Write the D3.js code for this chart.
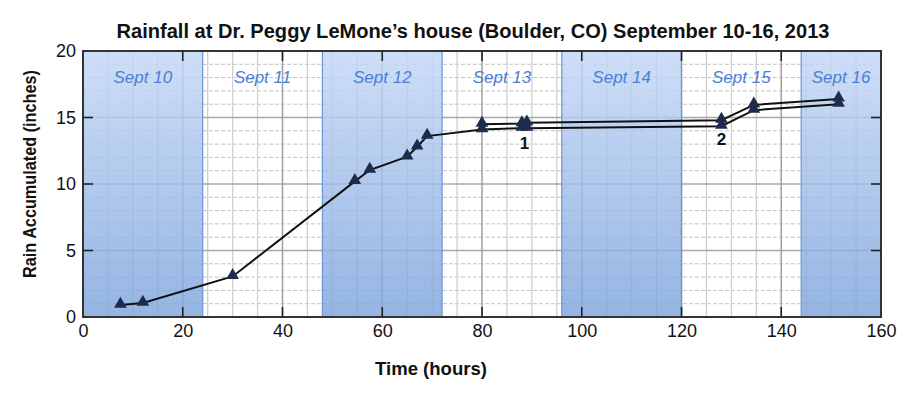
<!DOCTYPE html>
<html><head><meta charset="utf-8">
<script src="https://cdn.jsdelivr.net/npm/d3@7"></script>
<style>body{margin:0;background:#fff;} svg{display:block;}</style>
</head><body>
<svg id="chart" width="917" height="394"></svg>
<script>
// ---- data ----
const titleText = "Rainfall at Dr. Peggy LeMone\u2019s house (Boulder, CO) September 10-16, 2013";
const xTicks = [0, 20, 40, 60, 80, 100, 120, 140, 160];
const yTicks = [0, 5, 10, 15, 20];
const dayLabels = ["Sept 10", "Sept 11", "Sept 12", "Sept 13", "Sept 14", "Sept 15", "Sept 16"];
const dayStarts = [0, 24, 48, 72, 96, 120, 144];
const dayEnds   = [24, 48, 72, 96, 120, 144, 160];
const shadedDays = [true, false, true, false, true, false, true];
// lower gauge series (includes shared early readings)
const lowerHours  = [7.5, 12, 30, 54.5, 57.5, 65, 67, 69, 80, 88, 89, 128, 134.5, 151.5];
const lowerValues = [0.9, 1.05, 3.05, 10.2, 11.05, 12.05, 12.8, 13.6, 14.1, 14.2, 14.2, 14.35, 15.55, 16.0];
// upper gauge series
const upperHours  = [80, 88, 89, 128, 134.5, 151.5];
const upperValues = [14.5, 14.55, 14.6, 14.8, 15.95, 16.4];
const notes = [{label: "1", hour: 88.5, value: 12.6}, {label: "2", hour: 128, value: 12.9}];

// ---- layout ----
const svg = d3.select("#chart");
const L = 83, R = 881, T = 51, B = 317;
const x = d3.scaleLinear().domain([0, 160]).range([L, R]);
const y = d3.scaleLinear().domain([0, 20]).range([B, T]);

const defs = svg.append("defs");
const grad = defs.append("linearGradient").attr("id", "bandGrad").attr("x1", 0).attr("x2", 0).attr("y1", 0).attr("y2", 1);
grad.append("stop").attr("offset", "0%").attr("stop-color", "#c3d7f6");
grad.append("stop").attr("offset", "100%").attr("stop-color", "#7ea4dc");

// grid
const g = svg.append("g");
g.selectAll(".hmin").data(d3.range(1, 20).filter(v => v % 5 !== 0)).join("line")
  .attr("x1", L).attr("x2", R).attr("y1", d => y(d)).attr("y2", d => y(d))
  .attr("stroke", "#c4c4c4").attr("stroke-width", 1).attr("stroke-dasharray", "4,2");
g.selectAll(".vmin").data(d3.range(5, 160, 5).filter(v => v % 20 !== 0)).join("line")
  .attr("y1", T).attr("y2", B).attr("x1", d => x(d)).attr("x2", d => x(d))
  .attr("stroke", "#d0d0d0").attr("stroke-width", 1.3);
g.selectAll(".hmaj").data([5, 10, 15]).join("line")
  .attr("x1", L).attr("x2", R).attr("y1", d => y(d)).attr("y2", d => y(d))
  .attr("stroke", "#a8a8a8").attr("stroke-width", 1.5);
g.selectAll(".vmaj").data(xTicks.slice(1, -1)).join("line")
  .attr("y1", T).attr("y2", B).attr("x1", d => x(d)).attr("x2", d => x(d))
  .attr("stroke", "#a0a0a0").attr("stroke-width", 1.5);

// bands
const bandIdx = d3.range(dayLabels.length).filter(i => shadedDays[i]);
svg.append("g").selectAll("rect").data(bandIdx).join("rect")
  .attr("x", i => x(dayStarts[i])).attr("width", i => x(dayEnds[i]) - x(dayStarts[i]))
  .attr("y", T).attr("height", B - T)
  .attr("fill", "url(#bandGrad)").attr("fill-opacity", 0.82)
  .attr("stroke", "#6a94d3").attr("stroke-width", 1.2);

// day labels
svg.append("g").selectAll("text").data(d3.range(dayLabels.length)).join("text")
  .attr("x", i => x((dayStarts[i] + dayEnds[i]) / 2))
  .attr("y", 83)
  .attr("text-anchor", "middle")
  .attr("font-family", "Liberation Sans, Arial, sans-serif")
  .attr("font-style", "italic")
  .attr("font-size", 17)
  .attr("fill", "#4a80d4")
  .text(i => dayLabels[i]);

// frame
svg.append("rect").attr("x", L).attr("y", T).attr("width", R - L).attr("height", B - T)
  .attr("fill", "none").attr("stroke", "#333").attr("stroke-width", 2);

// inner ticks
const tk = svg.append("g").attr("stroke", "#222").attr("stroke-width", 1.6);
tk.selectAll(".yl").data([5, 10, 15]).join("line")
  .attr("x1", L).attr("x2", L + 10).attr("y1", d => y(d)).attr("y2", d => y(d));
tk.selectAll(".yr").data([5, 10, 15]).join("line")
  .attr("x1", R - 10).attr("x2", R).attr("y1", d => y(d)).attr("y2", d => y(d));
tk.selectAll(".xb").data(xTicks.slice(1, -1)).join("line")
  .attr("x1", d => x(d)).attr("x2", d => x(d)).attr("y1", B).attr("y2", B - 10);
tk.selectAll(".xt").data(xTicks.slice(1, -1)).join("line")
  .attr("x1", d => x(d)).attr("x2", d => x(d)).attr("y1", T).attr("y2", T + 10);

// axes (labels only)
const xAxis = svg.append("g").attr("transform", `translate(0,${B})`)
  .call(d3.axisBottom(x).tickValues(xTicks).tickSize(0).tickPadding(7));
const yAxis = svg.append("g").attr("transform", `translate(${L},0)`)
  .call(d3.axisLeft(y).tickValues(yTicks).tickSize(0).tickPadding(7));
[xAxis, yAxis].forEach(a => {
  a.select(".domain").remove();
  a.selectAll("text").attr("font-family", "Liberation Sans, Arial, sans-serif").attr("font-size", 18).attr("fill", "#111");
});

// lines
const line = d3.line().x(d => x(d[0])).y(d => y(d[1]));
const lowerPts = lowerHours.map((h, i) => [h, lowerValues[i]]);
const upperPts = upperHours.map((h, i) => [h, upperValues[i]]);
svg.append("path").datum(lowerPts).attr("d", line).attr("fill", "none").attr("stroke", "#111").attr("stroke-width", 2);
svg.append("path").datum(upperPts).attr("d", line).attr("fill", "none").attr("stroke", "#111").attr("stroke-width", 2);

const tri = d3.symbol().type(d3.symbolTriangle).size(70);
svg.append("g").selectAll("path").data(lowerPts.concat(upperPts)).join("path")
  .attr("d", tri)
  .attr("transform", d => `translate(${x(d[0])},${y(d[1]) - 1})`)
  .attr("fill", "#1d2c4c");

// notes
svg.append("g").selectAll("text").data(notes).join("text")
  .attr("x", d => x(d.hour)).attr("y", d => y(d.value))
  .attr("text-anchor", "middle")
  .attr("font-family", "Liberation Sans, Arial, sans-serif")
  .attr("font-weight", "bold").attr("font-size", 17).attr("fill", "#111")
  .text(d => d.label);

// titles
svg.append("text").attr("x", 473).attr("y", 38).attr("text-anchor", "middle")
  .attr("font-family", "Liberation Sans Narrow, Liberation Sans, Arial, sans-serif")
  .attr("font-weight", "bold").attr("font-size", 20).attr("fill", "#111")
  .attr("textLength", 713).attr("lengthAdjust", "spacingAndGlyphs")
  .text(titleText);
svg.append("text").attr("x", 431).attr("y", 375).attr("text-anchor", "middle")
  .attr("font-family", "Liberation Sans Narrow, Liberation Sans, Arial, sans-serif")
  .attr("font-weight", "bold").attr("font-size", 18).attr("fill", "#111")
  .attr("textLength", 112).attr("lengthAdjust", "spacingAndGlyphs")
  .text("Time (hours)");
svg.append("text").attr("transform", "translate(36,174) rotate(-90)").attr("text-anchor", "middle")
  .attr("font-family", "Liberation Sans Narrow, Liberation Sans, Arial, sans-serif")
  .attr("font-weight", "bold").attr("font-size", 18).attr("fill", "#111")
  .attr("textLength", 208).attr("lengthAdjust", "spacingAndGlyphs")
  .text("Rain Accumulated (inches)");
</script>
</body></html>
